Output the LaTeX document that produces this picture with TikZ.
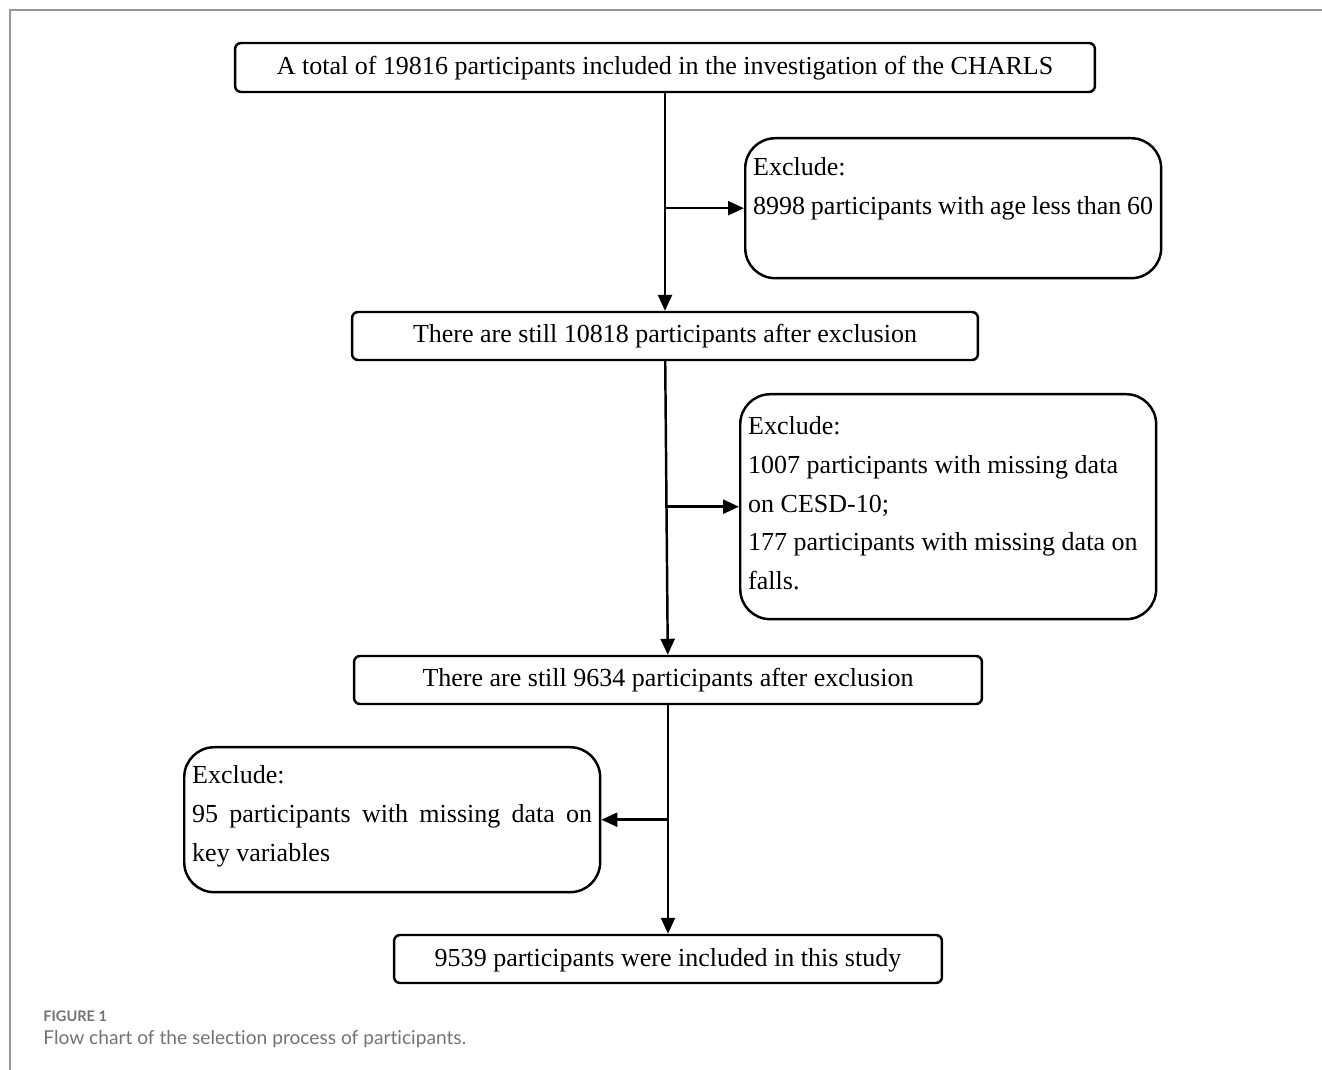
\documentclass[tikz,border=0pt]{standalone}
\usepackage{fontspec}
\setmainfont{Liberation Serif}
\newfontfamily\capfont[Ligatures=NoCommon]{Lato}
\usetikzlibrary{arrows.meta,positioning}

\definecolor{framegray}{RGB}{150,150,150}
\definecolor{capgray}{RGB}{115,115,115}

\tikzset{
  stepbox/.style={rectangle,draw,line width=1.4pt,rounded corners=0.12cm,
    font=\fontsize{14.8pt}{22pt}\selectfont,inner sep=0pt,
    text height=0.4cm,text depth=0.12cm},
  excludebox/.style={rectangle,draw,line width=1.4pt,rounded corners=0.6cm,
    font=\fontsize{14.8pt}{22pt}\selectfont,align=flush left,
    text width=8.0cm,inner xsep=0.16cm,inner ysep=0.16cm,anchor=north west},
  flowarrow/.style={line width=1.4pt,-{Triangle[length=0.32cm,width=0.28cm]}},
}

\begin{document}
\begin{tikzpicture}[x=0.02cm,y=-0.02cm]
  \useasboundingbox (0,0) rectangle (1322,1070);
  % Frame
  \draw [framegray,line width=1.2pt] (10,1070) -- (10,10) -- (1322,10);

  % Define nodes
  \node (total) [stepbox,minimum width=17.2cm,minimum height=0.98cm] at (665,67.5)
    {A total of 19816 participants included in the investigation of the CHARLS};
  \node (exclage) [excludebox,text height=0.59cm,text depth=1.89cm] at (744,137)
    {Exclude:\\8998 participants with age less than 60};
  \node (still1) [stepbox,minimum width=12.52cm,minimum height=0.96cm] at (665,336)
    {There are still 10818 participants after exclusion};
  \node (exclmiss) [excludebox,text height=0.65cm,text depth=3.53cm] at (739,393)
    {Exclude:\\1007 participants with missing data\\on CESD-10;\\177 participants with missing data on\\falls.};
  \node (still2) [stepbox,minimum width=12.56cm,minimum height=0.96cm] at (668,680)
    {There are still 9634 participants after exclusion};
  \node (exclkey) [excludebox,align=justify,text height=0.57cm,text depth=2.01cm] at (183,746)
    {Exclude:\\95 participants with missing data on\linebreak key variables};
  \node (final) [stepbox,minimum width=10.96cm,minimum height=0.96cm] at (668,959)
    {9539 participants were included in this study};

  % Draw edges
  \draw [flowarrow] (total) -- (still1);
  \draw [flowarrow] (exclage.west -| total.south) -- (exclage.west);
  \draw [flowarrow] (still1) -- (still2);
  \draw [flowarrow] (exclmiss.west -| still1.south) -- (exclmiss.west);
  \draw [flowarrow] (still2) -- (final);
  \draw [flowarrow] (exclkey.east -| still2.south) -- (exclkey.east);

  % Caption
  \node (figlabel) [anchor=west,text=capgray,font=\capfont\bfseries\fontsize{8.3pt}{10pt}\selectfont,inner sep=0pt] at (43,1016) {FIGURE 1};
  \node (figcaption) [anchor=west,text=capgray,font=\capfont\fontsize{10.9pt}{12pt}\selectfont,inner sep=0pt] at (43,1039) {Flow chart of the selection process of participants.};
\end{tikzpicture}
\end{document}
